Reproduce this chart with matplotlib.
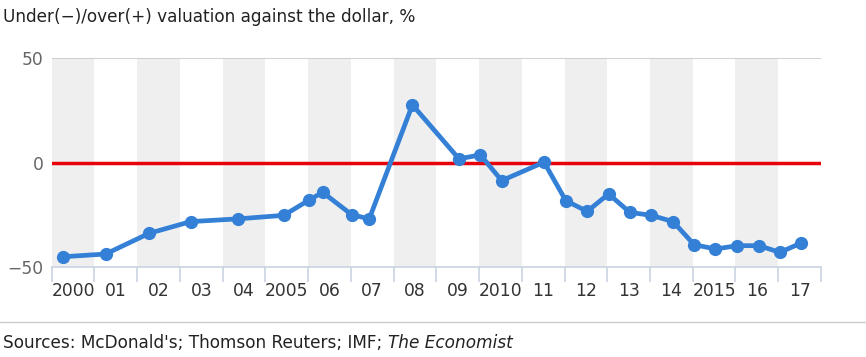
import numpy as np
import matplotlib
matplotlib.use('Agg')
from matplotlib import pyplot as plt
from matplotlib.lines import Line2D

# data (fractional year, % valuation)
years = [2000.26, 2001.26, 2002.28, 2003.25, 2004.35, 2005.43, 2006.03, 2006.34,
         2007.02, 2007.43, 2008.44, 2009.53, 2010.03, 2010.53, 2011.52, 2012.03,
         2012.53, 2013.03, 2013.53, 2014.03, 2014.54, 2015.03, 2015.53, 2016.04,
         2016.55, 2017.04, 2017.54]
values = [-45.0, -43.7, -33.8, -28.2, -26.9, -25.2, -17.8, -14.2,
          -24.9, -26.9, 27.6, 1.8, 3.7, -8.6, 0.2, -18.2,
          -23.3, -15.0, -23.8, -25.2, -28.2, -39.2, -41.3, -39.7,
          -39.7, -42.9, -38.4]
tick_labels = ['2000', '01', '02', '03', '04', '2005', '06', '07', '08', '09',
               '2010', '11', '12', '13', '14', '2015', '16', '17']
yticks = [-50, 0, 50]

blue = '#3380d6'
tickcol = '#c8d3e0'

fig = plt.figure(figsize=(8.66, 3.57), dpi=100)
ax = fig.add_axes([0.0597, 0.2515, 0.8883, 0.586])

for y in range(2000, 2018, 2):
    ax.axvspan(y, y + 1, color='#efefef', lw=0, zorder=0)

ax.axhline(50, color='#c8c8c8', lw=1.2, zorder=1)
ax.axhline(0, color='#e8000b', lw=2.5, zorder=2)
ax.plot(years, values, color=blue, lw=3.4, marker='o', ms=8.5, zorder=3)

ax.set_xlim(2000, 2018)
ax.set_ylim(-50, 50)
ax.set_yticks(yticks)
ax.set_yticklabels(['\u221250', '0', '50'])
ax.set_xticks(np.arange(2000, 2019))
ax.set_xticklabels([])
ax.set_xticks(np.arange(2000.5, 2018, 1), minor=True)
ax.set_xticklabels(tick_labels, minor=True)

ax.tick_params(axis='x', which='major', length=11, width=1.2, color=tickcol)
ax.tick_params(axis='x', which='minor', length=0, pad=11, labelsize=12.3, labelcolor='#333333')
ax.tick_params(axis='y', length=0, pad=6, labelsize=12.3, labelcolor='#666666')

for s in ['top', 'right', 'left']:
    ax.spines[s].set_visible(False)
ax.spines['bottom'].set_color(tickcol)
ax.spines['bottom'].set_linewidth(1.2)

fig.text(0.004, 0.952, 'Under(\u2212)/over(+) valuation against the dollar, %',
         fontsize=12.2, color='#222222', ha='left', va='center')

fig.add_artist(Line2D([0, 1], [0.098, 0.098], transform=fig.transFigure,
                      color='#cccccc', lw=1))

t = fig.text(0.004, 0.038, "Sources: McDonald's; Thomson Reuters; IMF; ",
             fontsize=12.2, color='#222222', ha='left', va='center')
fig.canvas.draw()
bb = t.get_window_extent()
fig.text(bb.x1 / fig.bbox.width, 0.038, 'The Economist', fontsize=12.2,
         style='italic', color='#222222', ha='left', va='center')

fig.savefig('out.png', dpi=100)
